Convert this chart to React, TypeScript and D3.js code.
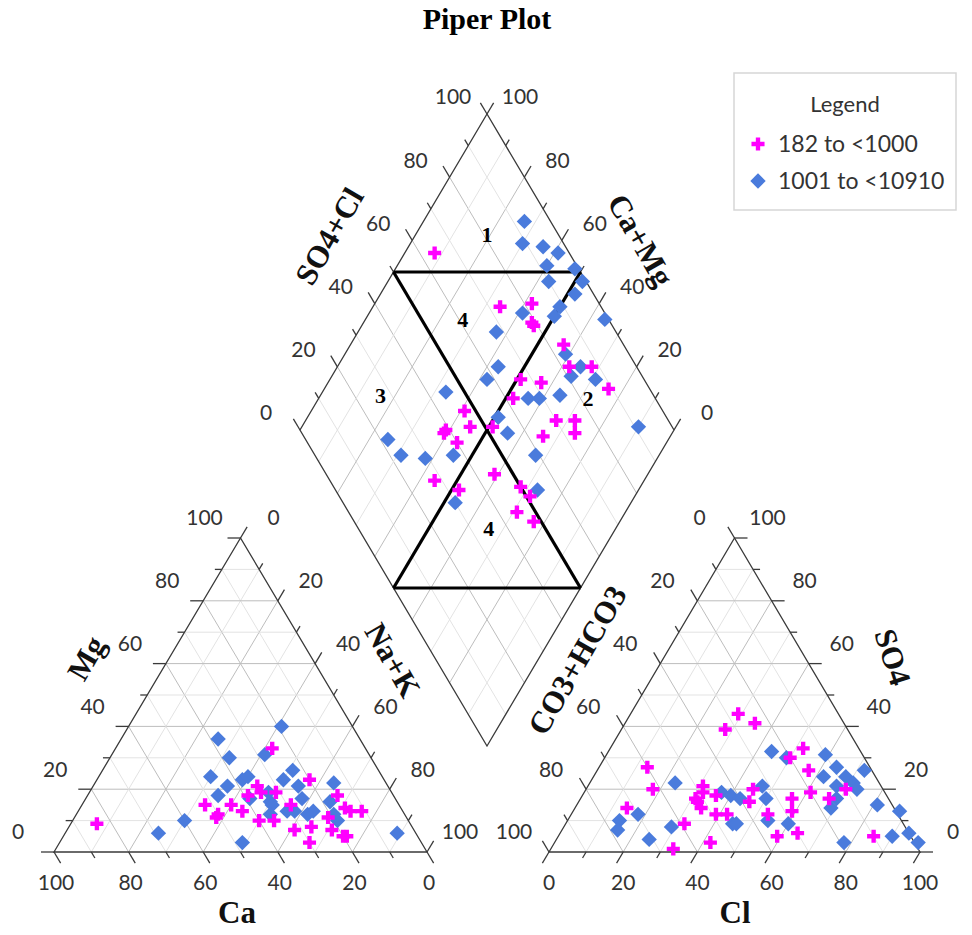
import React, { useRef, useEffect } from 'react';
import * as d3 from 'd3';

// cation triangle, [Ca %, Mg %]
const cationsLow = [
  [25, 33], [20, 23], [15, 18], [35, 21], [35, 19], [39, 18], [31, 19], [52, 15], [45, 15],
  [43, 13], [50, 12], [51, 11], [40, 10], [36, 10], [32, 7], [27, 8], [21, 11], [30, 3],
  [15, 14], [14, 13], [11, 13], [22, 7], [20, 5], [19, 5], [84, 9], [29, 15],
];
const cationsHigh = [
  [19, 40], [38, 36], [38, 30], [28, 31], [46, 24], [23, 26], [14, 22], [43, 21], [38, 23],
  [36, 24], [27, 23], [24, 21], [47, 18], [33, 19], [34, 16], [34, 15], [25, 17], [18, 16],
  [31, 13], [29, 13], [24, 13], [36, 12], [19, 10], [60, 10], [69, 6], [48, 3], [5, 6],
  [26, 12], [19, 12], [39, 17],
];

// anion triangle, [Cl %, SO4 %]
const anionsLow = [
  [29, 44], [35, 41], [28, 39], [52, 33], [50, 30], [57, 26], [13, 27], [18, 20], [31, 21],
  [32, 19], [31, 17], [32, 16], [34, 14], [36, 18], [45, 20], [46, 16], [57, 17], [59, 13],
  [61, 19], [67, 17], [70, 20], [14, 14], [32, 9], [39, 12], [42, 12], [53, 12], [59, 5],
  [64, 6], [42, 3], [33, 1], [85, 5],
];
const anionsHigh = [
  [44, 32], [49, 30], [59, 31], [64, 27], [62, 24], [68, 24], [72, 26], [71, 22], [73, 20],
  [67, 21], [69, 17], [69, 14], [81, 15], [88, 13], [23, 22], [37, 19], [40, 18], [43, 17],
  [47, 21], [50, 17], [18, 12], [14, 10], [15, 7], [25, 4], [29, 8], [45, 9], [46, 9],
  [54, 10], [60, 9], [78, 3], [90, 5], [94, 6], [98, 3],
];

// diamond, [SO4+Cl %, Ca+Mg %]
const diamondLow = [
  [64, 92], [73, 66], [82, 58], [79, 55], [79, 54], [84, 43], [82, 38], [88, 32], [89, 24],
  [67, 49], [72, 43], [62, 48], [70, 33], [75, 28], [73, 26], [64, 34], [47, 59], [46, 55],
  [39, 61], [38, 61], [40, 56], [52, 49], [45, 41], [28, 56], [33, 48], [50, 32], [51, 28],
  [45, 29], [48, 23],
];
const diamondHigh = [
  [93, 73], [89, 70], [94, 64], [97, 59], [92, 60], [99, 52], [99, 48], [90, 57], [95, 48],
  [89, 50], [86, 50], [78, 59], [68, 63], [99, 36], [83, 41], [85, 35], [81, 36], [87, 29],
  [63, 57], [58, 58], [45, 67], [66, 44], [69, 41], [75, 36], [91, 10], [55, 49], [55, 44],
  [22, 75], [23, 69], [29, 62], [37, 55], [59, 33], [54, 27], [30, 47],
];

const seriesNames = ['182 to <1000', '1001 to <10910'];
const tickValues = d3.range(0, 101, 10);
// zone number, SO4+Cl, Ca+Mg
const zoneLabels: [string, number, number][] = [
  ['1', 81, 81], ['4', 61, 74], ['3', 27, 84], ['2', 82, 28], ['4', 35, 34],
];

const MAGENTA = '#ff00ff';
const BLUE = '#4a7bdc';
const EDGE = '#3a3a3a';
const TICK_FONT = 'Lato, "Open Sans", sans-serif';
const SERIF = '"Liberation Serif", "Times New Roman", serif';

const App = () => {
  const svgRef = useRef<SVGSVGElement>(null);

  useEffect(() => {
    const svg = d3.select(svgRef.current);
    svg.selectAll('*').remove();

    const yScale = d3.scaleLinear().domain([0, 100]).range([852, 538]);
    // cations: Ca along base (100 at left), Mg upwards
    const caX = d3.scaleLinear().domain([0, 100]).range([427, 54]);
    const mgShift = d3.scaleLinear().domain([0, 100]).range([0, -186.5]);
    const cat = (ca: number, mg: number) => [caX(ca) + mgShift(mg), yScale(mg)];
    // anions: Cl along base (100 at right), SO4 upwards
    const clX = d3.scaleLinear().domain([0, 100]).range([549, 920]);
    const so4Shift = d3.scaleLinear().domain([0, 100]).range([0, 185.5]);
    const ani = (cl: number, so4: number) => [clX(cl) + so4Shift(so4), yScale(so4)];
    // diamond
    const dX = d3.scaleLinear().domain([0, 100]).range([0, 187]);
    const dY = d3.scaleLinear().domain([0, 200]).range([746, 114]);
    const dia = (a: number, b: number) => [487 + dX(a) - dX(b), dY(a + b)];

    const unit = (p: number[], q: number[]) => {
      const dx = q[0] - p[0], dy = q[1] - p[1], l = Math.hypot(dx, dy);
      return [dx / l, dy / l];
    };

    const grid = svg.append('g');
    const seg = (g: any, p: number[], q: number[], color: string, w: number) =>
      g.append('line')
        .attr('x1', p[0]).attr('y1', p[1]).attr('x2', q[0]).attr('y2', q[1])
        .attr('stroke', color).attr('stroke-width', w);
    const gridColor = (v: number) => (v % 20 === 0 ? '#bdbdbd' : '#e3e3e3');

    // grid lines
    d3.range(10, 100, 10).forEach((v) => {
      seg(grid, cat(100 - v, v), cat(0, v), gridColor(v), 1);
      seg(grid, cat(v, 0), cat(v, 100 - v), gridColor(v), 1);
      seg(grid, cat(100 - v, 0), cat(0, 100 - v), gridColor(v), 1);
      seg(grid, ani(0, v), ani(100 - v, v), gridColor(v), 1);
      seg(grid, ani(v, 0), ani(v, 100 - v), gridColor(v), 1);
      seg(grid, ani(100 - v, 0), ani(0, 100 - v), gridColor(v), 1);
      seg(grid, dia(v, 0), dia(v, 100), gridColor(v), 1);
      seg(grid, dia(0, v), dia(100, v), gridColor(v), 1);
    });

    // outlines
    const frame = svg.append('g');
    const outline = (pts: number[][]) =>
      frame.append('path')
        .attr('d', d3.line()(pts as [number, number][]) + 'Z')
        .attr('fill', 'none').attr('stroke', EDGE).attr('stroke-width', 1.3);
    outline([cat(100, 0), cat(0, 100), cat(0, 0)]);
    outline([ani(0, 0), ani(0, 100), ani(100, 0)]);
    outline([dia(0, 0), dia(100, 0), dia(100, 100), dia(0, 100)]);

    // ticks + labels
    const labels = svg.append('g')
      .attr('font-family', TICK_FONT).attr('font-size', 21).attr('fill', '#333')
      .attr('text-anchor', 'middle');
    const tick = (p: number[], dir: number[], v: number) => {
      const len = v % 20 === 0 ? 13 : 7;
      seg(frame, p, [p[0] + dir[0] * len, p[1] + dir[1] * len], EDGE, 1.3);
    };
    const label = (p: number[], off: number[], v: number) => {
      if (v % 20 !== 0) return;
      labels.append('text')
        .attr('x', p[0] + off[0]).attr('y', p[1] + off[1]).attr('dy', '0.35em')
        .text(v);
    };

    const upRightL = unit(cat(100, 0), cat(0, 100));
    const downRightL = unit(cat(0, 100), cat(0, 0));
    const upLeftR = unit(ani(100, 0), ani(0, 100));
    const downLeftR = unit(ani(0, 100), ani(0, 0));
    const upLeftD = unit(dia(0, 0), dia(0, 100));
    const upRightD = unit(dia(0, 0), dia(100, 0));

    tickValues.forEach((v) => {
      // Mg (left side)
      tick(cat(100 - v, v), [-1, 0], v);
      label(cat(100 - v, v), [-36, -20], v);
      // Na+K (right side)
      tick(cat(0, 100 - v), upRightL, v);
      label(cat(0, 100 - v), [33, -20], v);
      // Ca (base)
      tick(cat(v, 0), downRightL, v);
      label(cat(v, 0), [2, 31], v);

      // SO4 (right side)
      tick(ani(100 - v, v), [1, 0], v);
      label(ani(100 - v, v), [33, -20], v);
      // CO3+HCO3 (left side)
      tick(ani(0, 100 - v), upLeftR, v);
      label(ani(0, 100 - v), [-35, -20], v);
      // Cl (base)
      tick(ani(v, 0), downLeftR, v);
      label(ani(v, 0), [0, 31], v);

      // diamond upper sides
      tick(dia(v, 100), upLeftD, v);
      label(dia(v, 100), [-34, -17], v);
      tick(dia(100, v), upRightD, v);
      label(dia(100, v), [33, -17], v);
    });

    // zone boundaries
    const zones = svg.append('g');
    [
      [dia(50, 100), dia(100, 50)],
      [dia(50, 100), dia(50, 0)],
      [dia(100, 50), dia(0, 50)],
      [dia(0, 50), dia(50, 0)],
    ].forEach(([p, q]) => seg(zones, p, q, '#000', 3.2));

    zones.selectAll('text.zone')
      .data(zoneLabels)
      .join('text')
      .attr('class', 'zone')
      .attr('x', (d) => dia(d[1], d[2])[0])
      .attr('y', (d) => dia(d[1], d[2])[1])
      .attr('dy', '0.35em')
      .attr('text-anchor', 'middle')
      .attr('font-family', SERIF)
      .attr('font-weight', 'bold')
      .attr('font-size', 22)
      .text((d) => d[0]);

    // markers
    const cross = d3.symbol().type(d3.symbolCross).size(95)();
    const square = d3.symbol().type(d3.symbolSquare).size(118)();
    const pts = svg.append('g');
    const drawSet = (data: number[][], proj: (a: number, b: number) => number[], kind: string) => {
      pts.append('g')
        .selectAll('path')
        .data(data)
        .join('path')
        .attr('d', kind === 'plus' ? cross : square)
        .attr('fill', kind === 'plus' ? MAGENTA : BLUE)
        .attr('transform', (d) => {
          const p = proj(d[0], d[1]);
          return `translate(${p[0]},${p[1]})` + (kind === 'plus' ? '' : ' rotate(45)');
        });
    };
    drawSet(cationsHigh, cat, 'diamond');
    drawSet(anionsHigh, ani, 'diamond');
    drawSet(diamondHigh, dia, 'diamond');
    drawSet(cationsLow, cat, 'plus');
    drawSet(anionsLow, ani, 'plus');
    drawSet(diamondLow, dia, 'plus');

    // axis titles
    const titles = svg.append('g')
      .attr('font-family', SERIF).attr('font-weight', 'bold').attr('font-size', 31)
      .attr('fill', '#111').attr('text-anchor', 'middle');
    const axisTitle = (text: string, x: number, y: number, angle: number) =>
      titles.append('text')
        .attr('transform', `translate(${x},${y}) rotate(${angle})`)
        .attr('dy', '0.35em')
        .text(text);
    axisTitle('SO4+Cl', 329, 236, -60);
    axisTitle('Ca+Mg', 641, 240, 60);
    axisTitle('Mg', 86, 658, -60);
    axisTitle('Na+K', 393, 660, 60);
    axisTitle('CO3+HCO3', 577, 660, -60);
    axisTitle('SO4', 893, 657, 72);
    axisTitle('Ca', 237, 912, 0);
    axisTitle('Cl', 735, 912, 0);

    svg.append('text')
      .attr('x', 487).attr('y', 29)
      .attr('text-anchor', 'middle')
      .attr('font-family', SERIF).attr('font-weight', 'bold').attr('font-size', 30)
      .text('Piper Plot');

    // legend
    const legend = svg.append('g');
    legend.append('rect')
      .attr('x', 734).attr('y', 73).attr('width', 222).attr('height', 137)
      .attr('fill', '#fff').attr('stroke', '#d6d6d6').attr('stroke-width', 1.5);
    legend.append('text')
      .attr('x', 845).attr('y', 112).attr('text-anchor', 'middle')
      .attr('font-family', TICK_FONT).attr('font-size', 22).attr('fill', '#333')
      .text('Legend');
    seriesNames.forEach((name, i) => {
      const y = 144 + i * 37;
      legend.append('path')
        .attr('d', i === 0 ? cross : square)
        .attr('fill', i === 0 ? MAGENTA : BLUE)
        .attr('transform', `translate(758,${y})` + (i === 0 ? '' : ' rotate(45)'));
      legend.append('text')
        .attr('x', 778).attr('y', y).attr('dy', '0.35em')
        .attr('font-family', TICK_FONT).attr('font-size', 23).attr('fill', '#333')
        .text(name);
    });
  }, []);

  return (
    <svg
      ref={svgRef}
      width={972}
      height={935}
      style={{ position: 'absolute', left: 0, top: 0, background: '#fff' }}
    />
  );
};

export default App;
